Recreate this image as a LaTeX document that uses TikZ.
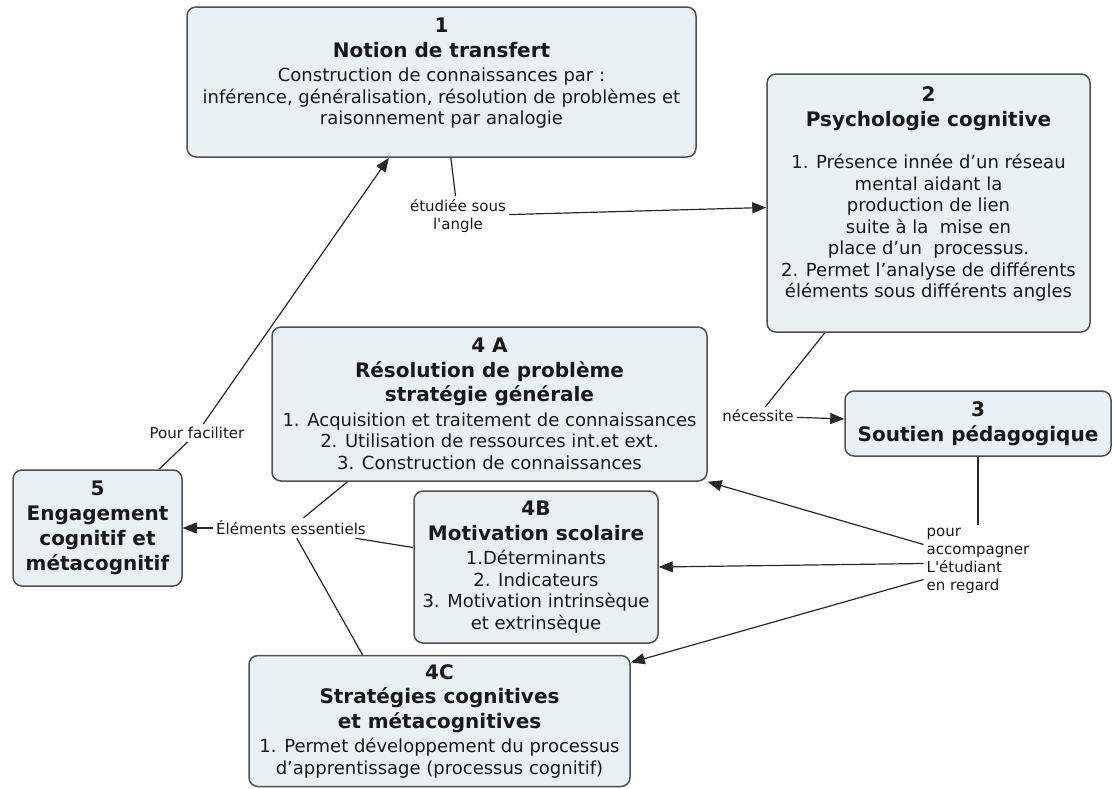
\documentclass[tikz,border=0pt]{standalone}
\usepackage{fontspec}
\setmainfont{DejaVu Sans}
\usetikzlibrary{arrows.meta}
\definecolor{boxfill}{RGB}{233,241,244}
\definecolor{boxline}{RGB}{80,80,80}
\definecolor{linkgray}{RGB}{40,40,40}
\definecolor{textgray}{RGB}{25,25,25}
\newcommand{\ctitle}[1]{{\fontsize{20}{25}\selectfont\bfseries #1}}

\begin{document}
\begin{tikzpicture}[x=1pt, y=-1pt,
    concept/.style={draw=boxline, fill=boxfill, line width=1.5pt, rounded corners=9pt,
      align=center, inner sep=0pt, text=textgray, font=\fontsize{18}{21.5}\selectfont},
    bigconcept/.style={concept, font=\fontsize{20}{25}\selectfont\bfseries},
    linkword/.style={align=center, inner sep=3pt, text=textgray, font=\fontsize{15}{18}\selectfont},
    link/.style={draw=linkgray, line width=1.2pt},
    linkarrow/.style={link, -{Triangle[length=14pt,width=11pt]}}]
    \fill[white] (0,0) rectangle (1116,788);
    \useasboundingbox (0,0) rectangle (1116,788);

    % Concepts
    \node[concept, minimum width=509pt, minimum height=150pt] (b1) at (441.5,82) {\ctitle{1}\\[3pt] \ctitle{Notion de transfert}\\[3pt] Construction de connaissances par~:\\ inférence, généralisation, résolution de problèmes et\\ raisonnement par analogie\\ \mbox{}};
    \node[concept, minimum width=323pt, minimum height=258pt] (b2) at (928.5,203) {\ctitle{2}\\[3pt] \ctitle{Psychologie cognitive}\\[21pt] 1. Présence innée d’un réseau\\ mental aidant la\\ production de lien\\ suite à la~ mise en\\ place d’un~ processus.\\ 2. Permet l’analyse de différents\\ éléments sous différents angles\\ \mbox{}};
    \node[bigconcept, minimum width=266pt, minimum height=65pt] (b3) at (978,423.5) {3\\ Soutien pédagogique};
    \node[concept, minimum width=435pt, minimum height=154pt] (b4a) at (489.5,404) {\ctitle{4 A}\\[3pt] \ctitle{Résolution de problème}\\[3pt] \ctitle{stratégie générale}\\[3pt] 1. Acquisition et traitement de connaissances\\ 2. Utilisation de ressources int.et ext.\\ 3. Construction de connaissances};
    \node[concept, minimum width=244pt, minimum height=152pt] (b4b) at (536,567) {\ctitle{4B}\\[3pt] \ctitle{Motivation scolaire}\\[3pt] 1.Déterminants\\ 2. Indicateurs\\ 3. Motivation intrinsèque\\ et extrinsèque};
    \node[concept, minimum width=381pt, minimum height=131pt] (b4c) at (439.5,721) {\ctitle{4C}\\[3pt] \ctitle{Stratégies cognitives}\\[3pt] \ctitle{et métacognitives}\\[3pt] 1. Permet développement du processus\\ d’apprentissage (processus cognitif)};
    \node[bigconcept, minimum width=169pt, minimum height=116pt] (b5) at (97.5,528) {5\\ Engagement\\ cognitif et\\ métacognitif};

    % Linking words
    \node[linkword] (l_angle) at (458,216) {étudiée sous\\ l\textquotesingle angle};
    \node[linkword] (l_nec) at (758,416) {nécessite};
    \node[linkword] (l_fac) at (197,433) {Pour faciliter};
    \node[linkword] (l_ess) at (291,528) {Éléments essentiels};
    \node[linkword, align=left] (l_acc) at (978,560.5) {pour\\ accompagner\\ L\textquotesingle étudiant\\ en regard};

    % Links
    \draw[link] (b1) -- (l_angle);
    \draw[linkarrow] (l_angle) -- (b2);
    \draw[link] (b2) -- (l_nec);
    \draw[linkarrow] (l_nec) -- (b3);
    \draw[link] (b5) -- (l_fac);
    \draw[linkarrow] (l_fac) -- (b1);
    \draw[link] ([xshift=-142pt]b4a.south) -- (l_ess);
    \draw[link] (b4b) -- (l_ess);
    \draw[link] ([xshift=-77pt]b4c.north) -- (l_ess);
    \draw[linkarrow] (l_ess) -- (b5);
    \draw[link] (b3) -- (l_acc);
    \draw[linkarrow] ([yshift=16pt]l_acc.west) -- (b4a.south east);
    \draw[linkarrow] ([yshift=-3pt]l_acc.west) -- (b4b.east);
    \draw[linkarrow] ([yshift=-19pt]l_acc.west) -- (b4c.17);
\end{tikzpicture}
\end{document}
